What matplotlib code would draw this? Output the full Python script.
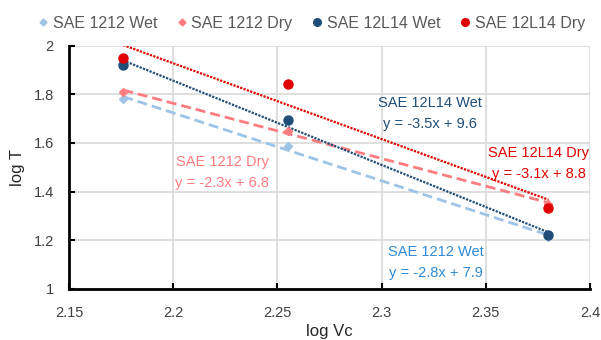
import numpy as np
import matplotlib.pyplot as plt
from matplotlib.lines import Line2D

plt.rcParams['font.family'] = ['Liberation Sans', 'DejaVu Sans']

# log Vc positions (log10 of 150, 180, 240 m/min)
logVc = [2.176, 2.255, 2.380]

# log T readings
wet1212 = [1.780, 1.587, 1.215]
dry1212 = [1.810, 1.650, 1.350]
wet12L14 = [1.920, 1.696, 1.221]
dry12L14 = [1.950, 1.841, 1.334]

names = ["SAE 1212 Wet", "SAE 1212 Dry", "SAE 12L14 Wet", "SAE 12L14 Dry"]
eqs = ["y = -2.8x + 7.9", "y = -2.3x + 6.8", "y = -3.5x + 9.6", "y = -3.1x + 8.8"]

fig = plt.figure(figsize=(6.01, 3.4), dpi=100)
ax = fig.add_axes([0.1148, 0.150, 0.867, 0.716])

dash = (0, (3.6, 1.8))
dot = (0, (1, 0.6))
series = [
    (wet1212, "#9DC3E6", "D", 4.5, dash, 2.0),
    (dry1212, "#FF7C80", "D", 4.5, dash, 2.0),
    (wet12L14, "#1F4E79", "o", 6.5, dot, 1.6),
    (dry12L14, "#E00000", "o", 6.5, dot, 1.6),
]

x = np.array(logVc)
for ys, col, mk, ms, ls, lw in series:
    m, b = np.polyfit(x, ys, 1)
    ax.plot(x, m * x + b, color=col, lw=lw, linestyle=ls, zorder=2)
for ys, col, mk, ms, ls, lw in series:
    ax.plot(x, ys, linestyle="none", marker=mk, color=col, markersize=ms, zorder=3)

# trendline labels
lbls = [
    (2.3261, 1.107, "#2E8BD6"),
    (2.2234, 1.478, "#FF7C80"),
    (2.3232, 1.721, "#1F4E79"),
    (2.3755, 1.517, "#E00000"),
]
for (lx, ly, c), n, e in zip(lbls, names, eqs):
    ax.text(lx, ly + 0.043, n, color=c, fontsize=10.5, ha="center", va="center")
    ax.text(lx, ly - 0.043, e, color=c, fontsize=10.5, ha="center", va="center")

ax.set_xlim(2.15, 2.4)
ax.set_ylim(1, 2)
ax.set_xticks([2.15, 2.2, 2.25, 2.3, 2.35, 2.4])
ax.set_xticklabels(["2.15", "2.2", "2.25", "2.3", "2.35", "2.4"])
ax.set_yticks([1, 1.2, 1.4, 1.6, 1.8, 2])
ax.set_yticklabels(["1", "1.2", "1.4", "1.6", "1.8", "2"])
ax.grid(True, color="#D9D9D9", lw=1.2)
ax.set_axisbelow(True)
for s in ["top", "right"]:
    ax.spines[s].set_visible(False)
for s in ["left", "bottom"]:
    ax.spines[s].set_linewidth(2)
ax.tick_params(direction="in", length=4, width=1.5, labelsize=10.5,
               labelcolor="#404040")
ax.tick_params(axis="x", pad=12)
ax.tick_params(axis="y", pad=11)
ax.set_xlabel("log Vc", fontsize=12, labelpad=3, color="#262626")
ax.set_ylabel("log T", fontsize=12, labelpad=6, color="#262626")

handles = [Line2D([], [], linestyle="none", marker=mk, color=col, markersize=ms - 1)
           for ys, col, mk, ms, ls, lw in series]
fig.legend(handles, names, loc="center", bbox_to_anchor=(0.516, 0.932), ncol=4,
           frameon=False, fontsize=11.5, handletextpad=0.1, columnspacing=1.05,
           handlelength=1.0, labelcolor="#595959")

fig.savefig("out.png", dpi=100)
